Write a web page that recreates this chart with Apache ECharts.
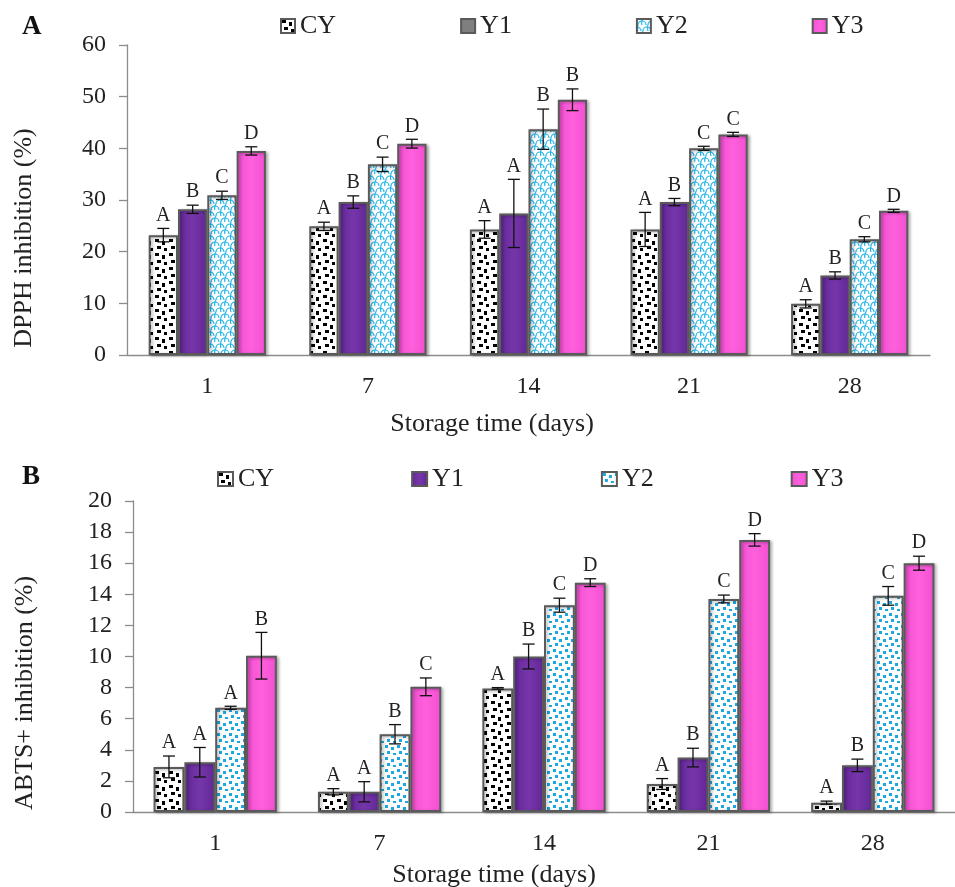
<!DOCTYPE html>
<html>
<head>
<meta charset="utf-8">
<script src="https://cdn.jsdelivr.net/npm/echarts@6/dist/echarts.min.js"></script>
<style>
  html, body { margin: 0; padding: 0; background: #fff; }
  #main { width: 955px; height: 887px; }
</style>
</head>
<body>
<div id="main"></div>
<script>
// storage days and treatments
var days = ['1', '7', '14', '21', '28'];
var groups = ['CY', 'Y1', 'Y2', 'Y3'];

// panel A - DPPH inhibition (%)
var dpphCY = [23.2, 24.9, 24.3, 24.3, 9.9];
var dpphY1 = [28.2, 29.6, 27.4, 29.6, 15.4];
var dpphY2 = [30.9, 36.9, 43.7, 40.0, 22.4];
var dpphY3 = [39.5, 40.9, 49.4, 42.7, 27.9];
var dpphErrCY = [1.3, 0.8, 1.7, 3.3, 0.8];
var dpphErrY1 = [0.8, 1.2, 6.6, 0.7, 0.7];
var dpphErrY2 = [0.8, 1.4, 3.9, 0.4, 0.5];
var dpphErrY3 = [0.8, 0.85, 2.1, 0.4, 0.3];
var dpphLetCY = ['A', 'A', 'A', 'A', 'A'];
var dpphLetY1 = ['B', 'B', 'A', 'B', 'B'];
var dpphLetY2 = ['C', 'C', 'B', 'C', 'C'];
var dpphLetY3 = ['D', 'D', 'B', 'C', 'D'];

// panel B - ABTS+ inhibition (%)
var abtsCY = [2.9, 1.3, 7.95, 1.8, 0.6];
var abtsY1 = [3.2, 1.3, 10.0, 3.5, 3.0];
var abtsY2 = [6.7, 5.0, 13.3, 13.7, 13.9];
var abtsY3 = [10.05, 8.05, 14.75, 17.5, 16.0];
var abtsErrCY = [0.7, 0.2, 0.05, 0.35, 0.1];
var abtsErrY1 = [0.95, 0.65, 0.8, 0.6, 0.4];
var abtsErrY2 = [0.1, 0.62, 0.45, 0.25, 0.6];
var abtsErrY3 = [1.5, 0.57, 0.25, 0.4, 0.45];
var abtsLetCY = ['A', 'A', 'A', 'A', 'A'];
var abtsLetY1 = ['A', 'A', 'B', 'B', 'B'];
var abtsLetY2 = ['A', 'B', 'C', 'C', 'C'];
var abtsLetY3 = ['B', 'C', 'D', 'D', 'D'];

var FONT = '"Liberation Serif", "Times New Roman", serif';
var gapA = 0.27, gapB = 0.25;

// fill patterns
function tile(w, h, draw) {
  var c = document.createElement('canvas');
  c.width = w; c.height = h;
  var ctx = c.getContext('2d');
  ctx.fillStyle = '#fff';
  ctx.fillRect(0, 0, w, h);
  draw(ctx);
  return { image: c, repeat: 'repeat' };
}
var dotsBlack = tile(14, 14, function (ctx) {
  ctx.fillStyle = '#000';
  ctx.fillRect(1, 1, 4, 3);
  ctx.fillRect(8, 3, 3, 4);
  ctx.fillRect(3, 8, 4, 3);
  ctx.fillRect(10, 10, 3, 3);
});
var wavesCyan = tile(10, 12, function (ctx) {
  ctx.strokeStyle = '#22b5ea';
  ctx.lineWidth = 1.2;
  ctx.beginPath(); ctx.arc(5, 6, 4, Math.PI, 2 * Math.PI); ctx.stroke();
  ctx.beginPath(); ctx.arc(0, 12, 4, Math.PI, 2 * Math.PI); ctx.stroke();
  ctx.beginPath(); ctx.arc(10, 12, 4, Math.PI, 2 * Math.PI); ctx.stroke();
  ctx.beginPath(); ctx.moveTo(1, 6); ctx.quadraticCurveTo(0, 9, 1, 12); ctx.stroke();
  ctx.beginPath(); ctx.moveTo(6, 0); ctx.quadraticCurveTo(4, 3, 5, 6); ctx.stroke();
});
var dotsCyan = tile(12, 12, function (ctx) {
  ctx.fillStyle = '#1aa8e3';
  ctx.fillRect(1, 1, 3, 3);
  ctx.fillRect(7, 3, 3, 3);
  ctx.fillRect(3, 7, 3, 3);
  ctx.fillRect(9, 9, 3, 2);
});
var purple = new echarts.graphic.LinearGradient(0, 0, 1, 0, [
  { offset: 0, color: '#612796' }, { offset: 0.5, color: '#7636aa' }, { offset: 1, color: '#612796' }
]);
var magenta = new echarts.graphic.LinearGradient(0, 0, 1, 0, [
  { offset: 0, color: '#f24fd2' }, { offset: 0.5, color: '#ff60dc' }, { offset: 1, color: '#f24fd2' }
]);

function barSeries(name, idx, values, fill, gap) {
  return {
    name: name,
    type: 'bar',
    xAxisIndex: idx,
    yAxisIndex: idx,
    barGap: '0%',
    barCategoryGap: (gap * 100) + '%',
    data: values,
    itemStyle: {
      color: fill,
      borderColor: '#5a5a5a',
      borderWidth: 2,
      shadowColor: 'rgba(0,0,0,0.3)',
      shadowBlur: 3,
      shadowOffsetX: 2,
      shadowOffsetY: 1
    }
  };
}

// error bars + significance letters, placed over bar k of the group
function errSeries(idx, k, means, errs, letters, gap) {
  return {
    type: 'custom',
    xAxisIndex: idx,
    yAxisIndex: idx,
    z: 10,
    silent: true,
    data: means.map(function (m, i) { return [i, m, errs[i]]; }),
    encode: { x: 0, y: 1 },
    renderItem: function (params, api) {
      var i = params.dataIndex;
      var m = api.value(1), e = api.value(2);
      var band = api.size([1, 0])[0];
      var barW = band * (1 - gap) / 4;
      var x = api.coord([i, m])[0] + (k - 1.5) * barW;
      var yHi = api.coord([i, m + e])[1];
      var yLo = api.coord([i, m - e])[1];
      var s = { stroke: '#111', lineWidth: 1.3 };
      return {
        type: 'group',
        children: [
          { type: 'line', shape: { x1: x, y1: yHi, x2: x, y2: yLo }, style: s },
          { type: 'line', shape: { x1: x - 6, y1: yHi, x2: x + 6, y2: yHi }, style: s },
          { type: 'line', shape: { x1: x - 6, y1: yLo, x2: x + 6, y2: yLo }, style: s },
          {
            type: 'text',
            style: {
              text: letters[i], x: x, y: yHi - 3,
              align: 'center', verticalAlign: 'bottom',
              font: '20px ' + FONT, fill: '#222'
            }
          }
        ]
      };
    }
  };
}

var chartDom = document.getElementById('main');
var myChart = echarts.init(chartDom);

var axisLabelStyle = { fontFamily: FONT, fontSize: 24, color: '#222' };
var lineStyle = { color: '#8c8c8c', width: 1.3 };

var option = {
  animation: false,
  backgroundColor: '#fff',
  legend: [
    {
      left: 275, top: 8, itemGap: 124, itemWidth: 14, itemHeight: 14, icon: 'rect',
      textStyle: { fontFamily: FONT, fontSize: 26, color: '#222' },
      data: [
        { name: 'CY' },
        { name: 'Y1', itemStyle: { color: '#7f7f7f' } },
        { name: 'Y2' },
        { name: 'Y3' }
      ]
    },
    {
      left: 212, top: 461, itemGap: 137, itemWidth: 15, itemHeight: 14, icon: 'rect',
      textStyle: { fontFamily: FONT, fontSize: 26, color: '#222' },
      data: [
        { name: 'CY' },
        { name: 'Y1' },
        { name: 'Y2', itemStyle: { color: dotsCyan } },
        { name: 'Y3' }
      ]
    }
  ],
  grid: [
    { left: 127, top: 45, width: 803, height: 310 },
    { left: 133, top: 501, width: 830, height: 311 }
  ],
  xAxis: [0, 1].map(function (i) {
    return {
      type: 'category', gridIndex: i, data: days,
      axisLine: { lineStyle: lineStyle },
      axisTick: { length: 8, lineStyle: lineStyle },
      axisLabel: Object.assign({ margin: 20 }, axisLabelStyle)
    };
  }),
  yAxis: [
    { max: 60, interval: 10 },
    { max: 20, interval: 2 }
  ].map(function (a, i) {
    return {
      type: 'value', gridIndex: i, min: 0, max: a.max, interval: a.interval,
      splitLine: { show: false },
      axisLine: { show: true, lineStyle: lineStyle },
      axisTick: { show: true, length: 8, lineStyle: lineStyle },
      axisLabel: Object.assign({ margin: 21 }, axisLabelStyle)
    };
  }),
  graphic: [
    { type: 'text', left: 22, top: 14, style: { text: 'A', font: 'bold 27px ' + FONT, fill: '#111' } },
    { type: 'text', left: 22, top: 464, style: { text: 'B', font: 'bold 27px ' + FONT, fill: '#111' } },
    { type: 'text', x: 24, y: 238, rotation: Math.PI / 2,
      style: { text: 'DPPH inhibition (%)', align: 'center', verticalAlign: 'middle', font: '26px ' + FONT, fill: '#222' } },
    { type: 'text', x: 25, y: 693, rotation: Math.PI / 2,
      style: { text: 'ABTS+ inhibition (%)', align: 'center', verticalAlign: 'middle', font: '26px ' + FONT, fill: '#222' } },
    { type: 'text', x: 492, y: 424,
      style: { text: 'Storage time (days)', align: 'center', verticalAlign: 'middle', font: '26px ' + FONT, fill: '#222' } },
    { type: 'text', x: 494, y: 875,
      style: { text: 'Storage time (days)', align: 'center', verticalAlign: 'middle', font: '26px ' + FONT, fill: '#222' } }
  ],
  series: [
    barSeries('CY', 0, dpphCY, dotsBlack, gapA),
    barSeries('Y1', 0, dpphY1, purple, gapA),
    barSeries('Y2', 0, dpphY2, wavesCyan, gapA),
    barSeries('Y3', 0, dpphY3, magenta, gapA),
    barSeries('CY', 1, abtsCY, dotsBlack, gapB),
    barSeries('Y1', 1, abtsY1, purple, gapB),
    barSeries('Y2', 1, abtsY2, dotsCyan, gapB),
    barSeries('Y3', 1, abtsY3, magenta, gapB),
    errSeries(0, 0, dpphCY, dpphErrCY, dpphLetCY, gapA),
    errSeries(0, 1, dpphY1, dpphErrY1, dpphLetY1, gapA),
    errSeries(0, 2, dpphY2, dpphErrY2, dpphLetY2, gapA),
    errSeries(0, 3, dpphY3, dpphErrY3, dpphLetY3, gapA),
    errSeries(1, 0, abtsCY, abtsErrCY, abtsLetCY, gapB),
    errSeries(1, 1, abtsY1, abtsErrY1, abtsLetY1, gapB),
    errSeries(1, 2, abtsY2, abtsErrY2, abtsLetY2, gapB),
    errSeries(1, 3, abtsY3, abtsErrY3, abtsLetY3, gapB)
  ]
};

option && myChart.setOption(option);
</script>
</body>
</html>
